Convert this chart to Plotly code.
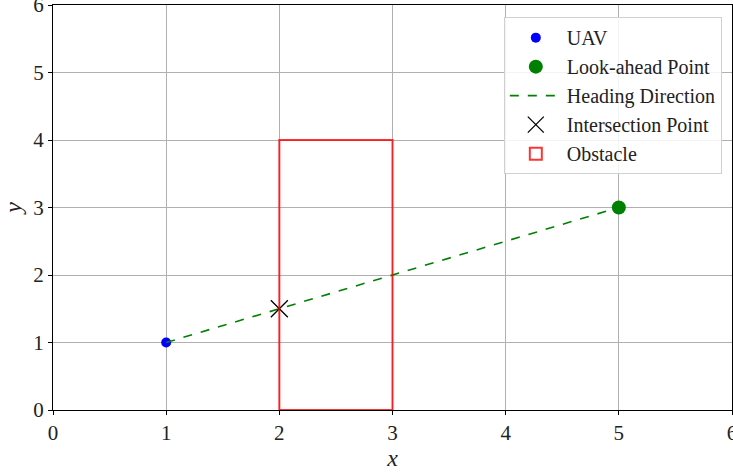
import plotly.graph_objects as go

uav = ([1], [1])
look_ahead = ([5], [3])
heading_x = [1, 5]
heading_y = [1, 3]
intersection = ([2], [1.5])
obstacle_x0, obstacle_x1 = 2, 3
obstacle_y0, obstacle_y1 = 0, 4
ticks = [0, 1, 2, 3, 4, 5, 6]

FONT = "Liberation Serif"

fig = go.Figure()
fig.add_trace(go.Scatter(x=uav[0], y=uav[1], mode="markers",
                         marker=dict(color="blue", size=10), name="UAV", legendrank=1))
fig.add_trace(go.Scatter(x=look_ahead[0], y=look_ahead[1], mode="markers",
                         marker=dict(color="green", size=14), name="Look-ahead Point", legendrank=2))
fig.add_trace(go.Scatter(x=heading_x, y=heading_y, mode="lines",
                         line=dict(color="green", width=1.6, dash="dash"),
                         name="Heading Direction", legendrank=3))
fig.add_trace(go.Scatter(x=intersection[0], y=intersection[1], mode="markers",
                         marker=dict(symbol="x-thin", size=17, line=dict(color="black", width=1.3), color="black"),
                         name="Intersection Point", legendrank=4))
fig.add_shape(type="rect", x0=obstacle_x0, x1=obstacle_x1, y0=obstacle_y0, y1=obstacle_y1,
              xref="x", yref="y", line=dict(color="rgba(255,0,0,0.8)", width=2),
              fillcolor="rgba(0,0,0,0)", showlegend=True, name="Obstacle", legendrank=5)

axis_common = dict(range=[0, 6], tickvals=ticks, ticktext=[str(t) for t in ticks],
                   showgrid=True, gridcolor="#b0b0b0", gridwidth=1,
                   showline=True, linecolor="black", linewidth=1.2, mirror=True,
                   ticks="outside", ticklen=4, tickcolor="black", ticklabeloverflow="allow",
                   automargin=False,
                   tickfont=dict(family=FONT, size=21, color="#222"), zeroline=False)

fig.update_layout(
    width=733, height=472,
    margin=dict(l=53, r=1, t=5, b=62),
    plot_bgcolor="white", paper_bgcolor="white",
    xaxis=dict(**axis_common, title=dict(text="<i>x</i>", font=dict(family=FONT, size=24, color="#222"), standoff=4)),
    yaxis=dict(**axis_common, title=dict(text="<i>y</i>", font=dict(family=FONT, size=24, color="#222"), standoff=6)),
    legend=dict(x=0.985, y=0.97, xanchor="right", yanchor="top",
                bgcolor="rgba(255,255,255,0.85)", bordercolor="#d0d0d0", borderwidth=1,
                font=dict(family=FONT, size=20, color="#222"), tracegroupgap=0,
                itemwidth=52),
    showlegend=True,
)

fig.write_html("out.html")
